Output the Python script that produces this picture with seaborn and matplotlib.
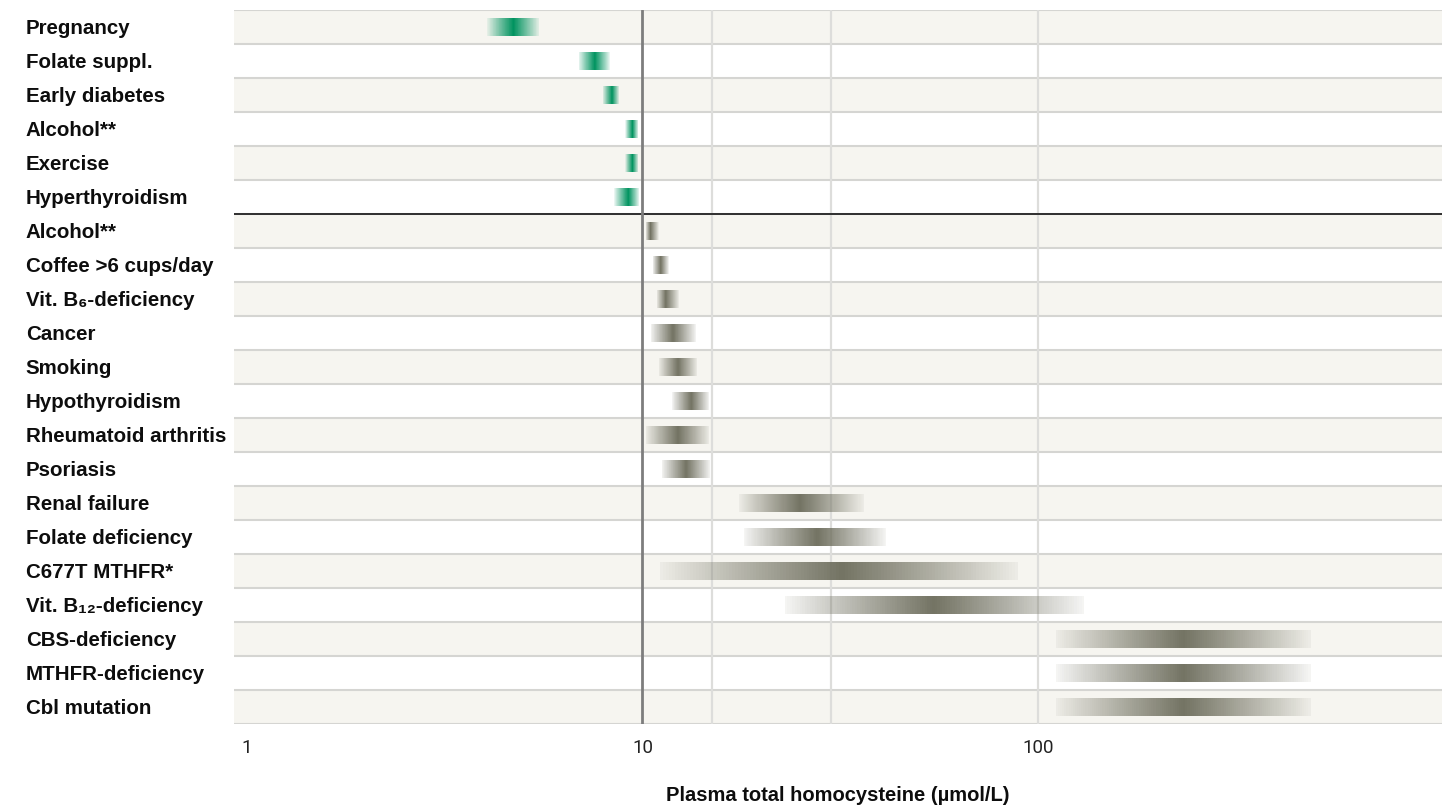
import numpy as np
import matplotlib
matplotlib.use("Agg")
import matplotlib.pyplot as plt
from matplotlib.colors import to_rgba
from matplotlib.ticker import FixedLocator, NullLocator
import seaborn as sns

# conditions, top to bottom
conditions = [
    "Pregnancy", "Folate suppl.", "Early diabetes", "Alcohol**", "Exercise",
    "Hyperthyroidism", "Alcohol**", "Coffee >6 cups/day", "Vit. B₆-deficiency",
    "Cancer", "Smoking", "Hypothyroidism", "Rheumatoid arthritis", "Psoriasis",
    "Renal failure", "Folate deficiency", "C677T MTHFR*", "Vit. B₁₂-deficiency",
    "CBS-deficiency", "MTHFR-deficiency", "Cbl mutation",
]
# range of plasma tHcy (µmol/L): low end, most typical, high end
low = [4.06, 6.90, 7.94, 9.05, 9.05, 8.48, 10.18, 10.61, 10.86, 10.48, 10.99,
       11.87, 10.18, 11.18, 17.5, 18.0, 11.1, 22.9, 110.6, 110.6, 110.6]
peak = [4.72, 7.58, 8.38, 9.43, 9.43, 9.21, 10.48, 11.12, 11.45, 11.94, 12.30,
        13.28, 12.30, 12.89, 25.0, 27.6, 32.0, 54.4, 232.6, 232.6, 232.6]
high = [5.48, 8.28, 8.73, 9.77, 9.77, 9.82, 10.99, 11.66, 12.37, 13.67, 13.75,
        14.76, 14.76, 14.85, 36.2, 41.3, 88.9, 130.5, 486.6, 486.6, 486.6]
effect = ["lower"] * 6 + ["higher"] * 15

x_ticks = [1, 10, 100]
x_tick_labels = ["1", "10", "100"]
ref_line = 10
grid_lines = [15, 30, 100]

colors = {"lower": "#00935f", "higher": "#737363"}

sns.set_theme(style="white")
plt.rcParams["font.family"] = ["Liberation Sans", "DejaVu Sans"]

fig = plt.figure(figsize=(14.52, 8.06), dpi=100)
ax = fig.add_axes([234 / 1452, 1 - 724 / 806, (1442 - 234) / 1452, (724 - 10) / 806])
ax.set_xscale("log")
ax.set_xlim(0.93, 1045)
ax.set_ylim(len(conditions) - 0.5, -0.5)

# alternating row bands and separators
for i in range(len(conditions)):
    if i % 2 == 0:
        ax.axhspan(i - 0.5, i + 0.5, color="#f6f5f0", lw=0, zorder=0)
for i in range(len(conditions) + 1):
    ax.axhline(i - 0.5, color="#d5d5d2", lw=1.5, zorder=1)
n_lower = effect.count("lower")
ax.axhline(n_lower - 0.5, color="#222222", lw=1.3, zorder=4)

for g in grid_lines:
    ax.axvline(g, color="#dddddb", lw=1.6, zorder=1)
ax.axvline(ref_line, color="#7d7d7d", lw=2, zorder=4)

# gradient bars: darkest at the typical value, fading out to both ends
n_seg = 120
for i, (lo, pk, hi, eff) in enumerate(zip(low, peak, high, effect)):
    edges = np.geomspace(lo, hi, n_seg + 1)
    mids = np.sqrt(edges[:-1] * edges[1:])
    lm, llo, lpk, lhi = np.log(mids), np.log(lo), np.log(pk), np.log(hi)
    t = np.where(mids < pk, (lm - llo) / (lpk - llo), (lhi - lm) / (lhi - lpk))
    alpha = 0.06 + 0.94 * np.clip(t, 0, 1) ** 0.95
    seg_colors = [to_rgba(colors[eff], a) for a in alpha]
    ax.barh(np.full(n_seg, i), np.diff(edges), left=edges[:-1], height=0.53,
            color=seg_colors, linewidth=0, antialiased=False, zorder=3)

ax.xaxis.set_major_locator(FixedLocator(x_ticks))
ax.xaxis.set_minor_locator(NullLocator())
ax.set_xticklabels(x_tick_labels, family=["Roboto", "DejaVu Sans"], fontsize=13.5,
                   color="#222222")
ax.tick_params(axis="x", length=0, pad=11)

ax.set_yticks(range(len(conditions)))
ax.set_yticklabels(conditions, fontsize=14.8, fontweight="bold", color="#0d0d0d")
for lab in ax.get_yticklabels():
    lab.set_ha("left")
ax.tick_params(axis="y", length=0, pad=150)

ax.set_xlabel("Plasma total homocysteine (µmol/L)", fontsize=14.5,
              fontweight="bold", color="#0d0d0d", labelpad=21)

sns.despine(ax=ax, left=True, bottom=True)
fig.savefig("out.png", dpi=100)
